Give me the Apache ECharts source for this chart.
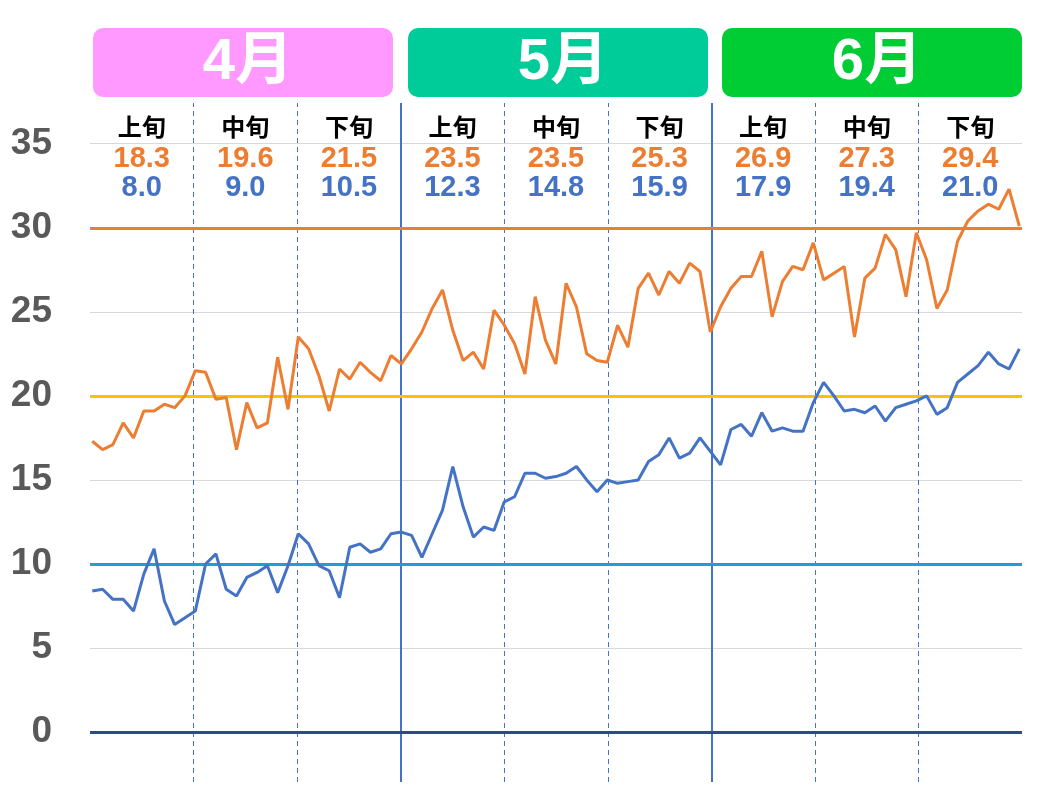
<!DOCTYPE html>
<html><head><meta charset="utf-8">
<script src="https://cdn.jsdelivr.net/npm/echarts@6/dist/echarts.min.js"></script>
<style>html,body{margin:0;padding:0;background:#fff}#c{width:1060px;height:800px}</style>
</head><body><div id="c"></div>
<script>
// Daily max temperature (Apr 1 – Jun 30)
const tmax = [17.3,16.8,17.1,18.4,17.5,19.1,19.1,19.5,19.3,20.0,
  21.5,21.4,19.8,19.9,16.8,19.6,18.1,18.4,22.3,19.2,
  23.5,22.8,21.2,19.1,21.6,21.0,22.0,21.4,20.9,22.4,
  21.9,22.8,23.8,25.2,26.3,23.9,22.1,22.6,21.6,25.1,
  24.2,23.1,21.3,25.9,23.3,21.9,26.7,25.3,22.5,22.1,
  22.0,24.2,22.9,26.4,27.3,26.0,27.4,26.7,27.9,27.4,
  23.8,25.3,26.4,27.1,27.1,28.6,24.7,26.8,27.7,27.5,
  29.1,26.9,27.3,27.7,23.5,27.0,27.6,29.6,28.7,25.9,
  29.7,28.1,25.2,26.3,29.2,30.4,31.0,31.4,31.1,32.3,30.1];
// Daily min temperature
const tmin = [8.4,8.5,7.9,7.9,7.2,9.4,10.9,7.8,6.4,6.8,
  7.2,10.0,10.6,8.5,8.1,9.2,9.5,9.9,8.3,9.9,
  11.8,11.2,9.9,9.6,8.0,11.0,11.2,10.7,10.9,11.8,
  11.9,11.7,10.4,11.8,13.2,15.8,13.4,11.6,12.2,12.0,
  13.7,14.0,15.4,15.4,15.1,15.2,15.4,15.8,15.0,14.3,
  15.0,14.8,14.9,15.0,16.1,16.5,17.5,16.3,16.6,17.5,
  16.7,15.9,18.0,18.3,17.6,19.0,17.9,18.1,17.9,17.9,
  19.6,20.8,20.0,19.1,19.2,19.0,19.4,18.5,19.3,19.5,
  19.7,20.0,18.9,19.3,20.8,21.3,21.8,22.6,21.9,21.6,22.8];
const months = ['4月','5月','6月'];
const dekads = ['上旬','中旬','下旬','上旬','中旬','下旬','上旬','中旬','下旬'];
const maxAvg = ['18.3','19.6','21.5','23.5','23.5','25.3','26.9','27.3','29.4'];
const minAvg = ['8.0','9.0','10.5','12.3','14.8','15.9','17.9','19.4','21.0'];
const yTicks = [0,5,10,15,20,25,30,35];
const refLines = [0,10,20,30];

const ORANGE = '#ED7D31', BLUE = '#4472C4';
const FONT = '"Liberation Sans", Arial, "Noto Sans CJK JP", sans-serif';
const xMin = -0.223, xMax = 90.26;
const yMax = 37.42;
const seg = (xMax - xMin) / 9;
const refColors = ['#2E4A8A', '#1E9ED8', '#FFC000', ORANGE];

const vLines = [];
for (let k = 1; k < 9; k++) {
  const solid = (k % 3 === 0);
  vLines.push({xAxis: xMin + k * seg,
    lineStyle: {type: solid ? 'solid' : [5, 4], width: solid ? 2 : 1, color: BLUE}});
}
const hLines = refLines.map((v, i) => ({yAxis: v, lineStyle: {color: refColors[i], width: 3, type: 'solid'}}));

const labelData = dekads.map((d, i) => ({value: [xMin + (i + 0.5) * seg, 34.1], name: d, mx: maxAvg[i], mn: minAvg[i]}));

const chart = echarts.init(document.getElementById('c'));
chart.setOption({
  animation: false,
  backgroundColor: '#fff',
  grid: [
    {left: 90, right: 38, top: 103, bottom: 67.85},
    {left: 90, right: 38, top: 103, bottom: 18}
  ],
  xAxis: [
    {type: 'value', gridIndex: 0, min: xMin, max: xMax, show: false},
    {type: 'value', gridIndex: 1, min: xMin, max: xMax, show: false}
  ],
  yAxis: [
    {
      type: 'value', gridIndex: 0, min: 0, max: yMax, interval: 5,
      axisLine: {show: false}, axisTick: {show: false},
      axisLabel: {
        margin: 38, color: '#595959', fontSize: 37, fontWeight: 'bold', fontFamily: FONT,
        formatter: v => yTicks.indexOf(v) >= 0 ? String(v) : ''
      },
      splitLine: {lineStyle: {color: ['#D9D9D9','#D9D9D9','#D9D9D9','#D9D9D9','#D9D9D9','#D9D9D9','#D9D9D9','#D9D9D9','transparent'], width: 1}}
    },
    {type: 'value', gridIndex: 1, min: 0, max: 1, show: false}
  ],
  graphic: months.map((m, i) => ({
    type: 'group', left: [93, 408, 722][i], top: 28,
    children: [
      {type: 'rect', shape: {x: 0, y: 0, width: 300, height: 69, r: 10}, style: {fill: ['#FF99FF', '#00CC99', '#00CC33'][i]}},
      {type: 'text', style: {text: m, x: 155, y: 35, align: 'center', verticalAlign: 'middle', fill: '#fff', font: 'bold 58px ' + FONT}}
    ]
  })),
  series: [
    {
      type: 'line', xAxisIndex: 1, yAxisIndex: 1, data: [], silent: true,
      markLine: {symbol: 'none', silent: true, label: {show: false}, data: vLines}
    },
    {
      type: 'line', xAxisIndex: 0, yAxisIndex: 0, data: [], silent: true,
      markLine: {symbol: 'none', silent: true, label: {show: false}, data: hLines}
    },
    {
      type: 'line', data: tmin.map((v, i) => [i, v]), showSymbol: false, z: 5,
      lineStyle: {color: BLUE, width: 3}, itemStyle: {color: BLUE}
    },
    {
      type: 'line', data: tmax.map((v, i) => [i, v]), showSymbol: false, z: 6,
      lineStyle: {color: ORANGE, width: 3}, itemStyle: {color: ORANGE}
    },
    {
      type: 'scatter', data: labelData, symbolSize: 0, z: 10, itemStyle: {opacity: 1},
      label: {
        show: true, position: 'inside',
        formatter: p => '{a|' + p.data.name + '}\n{b|' + p.data.mx + '}\n{c|' + p.data.mn + '}',
        rich: {
          a: {fontSize: 24, fontWeight: 'bold', color: '#000', lineHeight: 30, fontFamily: FONT},
          b: {fontSize: 29, fontWeight: 'bold', color: ORANGE, lineHeight: 29, fontFamily: FONT},
          c: {fontSize: 29, fontWeight: 'bold', color: BLUE, lineHeight: 29, fontFamily: FONT}
        }
      }
    }
  ]
});
</script></body></html>
